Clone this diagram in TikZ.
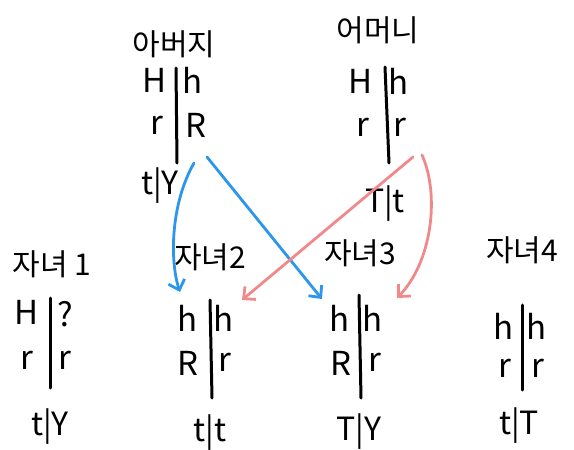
\documentclass[tikz,border=0pt]{standalone}
\usepackage{fontspec}
\setmainfont{Noto Sans CJK KR}
\definecolor{DadBlue}{RGB}{43,150,235}
\definecolor{MomPink}{RGB}{240,138,138}
\usetikzlibrary{arrows.meta}

\begin{document}
\begin{tikzpicture}[x=1pt,y=-1pt,
  title/.style={font=\fontsize{30}{32}\selectfont,inner sep=0pt},
  allele/.style={font=\fontsize{33}{35}\selectfont,inner sep=0pt},
  sexpair/.style={font=\fontsize{32}{34}\selectfont,inner sep=0pt},
  chrom/.style={line width=3pt,line cap=round},
  inherit/.style={line width=2.8pt,line cap=round,-{Straight Barb[length=9pt,width=17pt,line width=2.8pt]}}]
  \useasboundingbox (0,0) rectangle (574,450);

  % parents
  \node[title] (dad) at (174,44) {아버지};
  \coordinate (dadtop) at (176,68);
  \coordinate (dadbot) at (177,163);
  \draw[chrom] (dadtop) -- (dadbot);
  \node[allele] (dadH) at (155,80) {H};
  \node[allele] (dadh) at (193,80) {h};
  \node[allele] (dadr) at (157,125) {r};
  \node[allele] (dadR) at (196,125) {R};
  \node[sexpair] (dadsex) at (160,186) {t|Y};

  \node[title] (mom) at (378,30) {어머니};
  \coordinate (momtop) at (385,67);
  \coordinate (mombot) at (389,163);
  \draw[chrom] (momtop) -- (mombot);
  \node[allele] (momH) at (361,81) {H};
  \node[allele] (momh) at (399,81) {h};
  \node[allele] (momr) at (363,127) {r};
  \node[allele] (momr2) at (400,127) {r};
  \node[sexpair] (momsex) at (385,204) {T|t};

  % children
  \node[title] (kid1) at (52,264) {자녀 1};
  \coordinate (kid1top) at (50,298);
  \coordinate (kid1bot) at (50,388);
  \draw[chrom] (kid1top) -- (kid1bot);
  \node[allele] (kid1H) at (27,312) {H};
  \node[allele] (kid1q) at (65,314) {?};
  \node[allele] (kid1r) at (27,360) {r};
  \node[allele] (kid1r2) at (65,360) {r};
  \node[sexpair] (kid1sex) at (50,427) {t|Y};

  \node[title] (kid2) at (210,257) {자녀2};
  \coordinate (kid2top) at (210,300);
  \coordinate (kid2bot) at (212,398);
  \draw[chrom] (kid2top) -- (kid2bot);
  \node[allele] (kid2h) at (188,318) {h};
  \node[allele] (kid2h2) at (224,318) {h};
  \node[allele] (kid2R) at (188,363) {R};
  \node[allele] (kid2r) at (225,362) {r};
  \node[sexpair] (kid2sex) at (210,433) {t|t};

  \node[title] (kid3) at (360,253) {자녀3};
  \coordinate (kid3top) at (359,295);
  \coordinate (kid3bot) at (361,398);
  \draw[chrom] (kid3top) -- (kid3bot);
  \node[allele] (kid3h) at (340,318) {h};
  \node[allele] (kid3h2) at (373,318) {h};
  \node[allele] (kid3R) at (341,363) {R};
  \node[allele] (kid3r) at (375,362) {r};
  \node[sexpair] (kid3sex) at (359,432) {T|Y};

  \node[title] (kid4) at (522,250) {자녀4};
  \coordinate (kid4top) at (522,305);
  \coordinate (kid4bot) at (522,390);
  \draw[chrom] (kid4top) -- (kid4bot);
  \node[allele] (kid4h) at (504,326) {h};
  \node[allele] (kid4h2) at (537,326) {h};
  \node[allele] (kid4r) at (505,368) {r};
  \node[allele] (kid4r2) at (538,368) {r};
  \node[sexpair] (kid4sex) at (519,426) {t|T};

  % inheritance arrows
  \coordinate (dadout1) at (194,163);
  \coordinate (dadout2) at (207,157);
  \coordinate (momout1) at (413,157);
  \coordinate (momout2) at (422,155);
  \coordinate (kid2in) at (180,292);
  \coordinate (kid2in2) at (242,300);
  \coordinate (kid3in) at (322,299);
  \coordinate (kid3in2) at (397,298);
  \draw[inherit,DadBlue] (dadout1) .. controls (170,205) and (170,262) .. (kid2in);
  \draw[inherit,DadBlue] (dadout2) -- (kid3in);
  \draw[inherit,MomPink] (momout1) -- (kid2in2);
  \draw[inherit,MomPink] (momout2) .. controls (440,195) and (432,262) .. (kid3in2);
\end{tikzpicture}
\end{document}
